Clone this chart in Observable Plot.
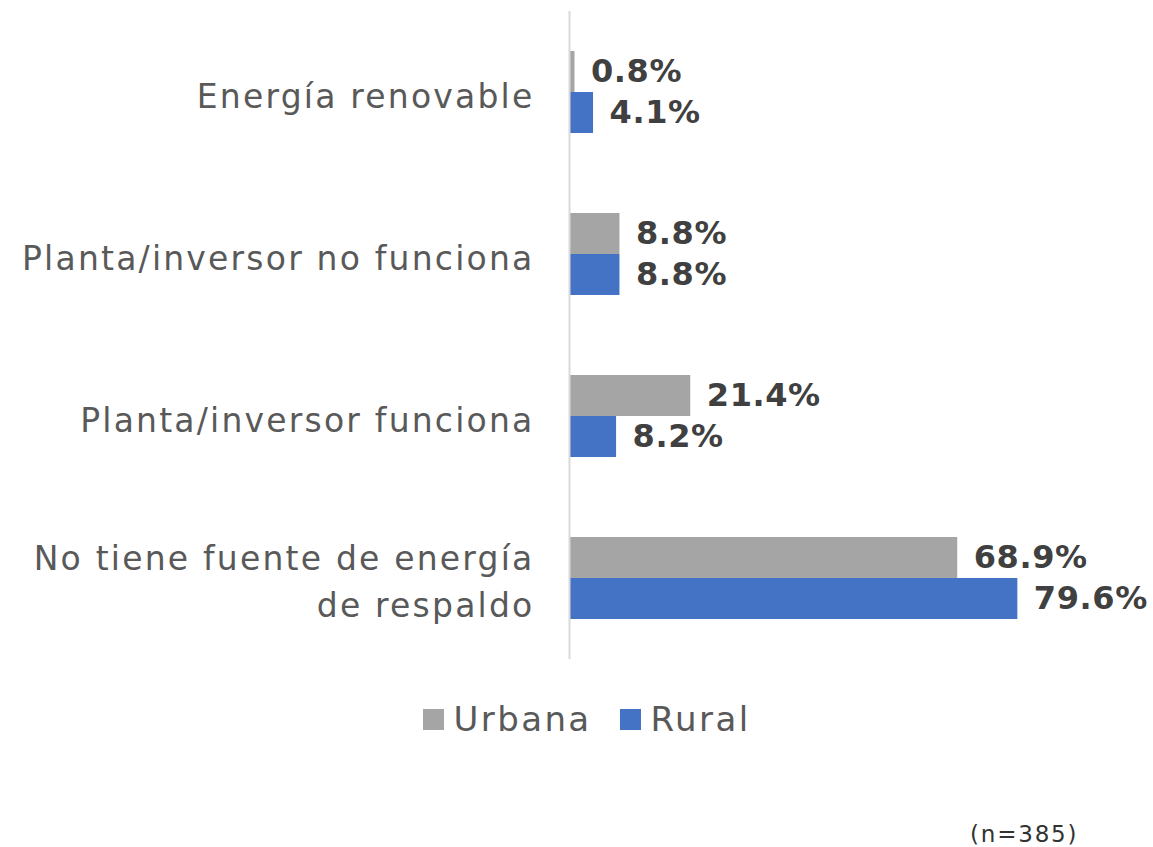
<!DOCTYPE html>
<html>
<head>
<meta charset="utf-8">
<script src="https://cdn.jsdelivr.net/npm/d3@7"></script>
<script src="https://cdn.jsdelivr.net/npm/@observablehq/plot@0.6"></script>
<style>
  html, body { margin: 0; padding: 0; background: #fff; }
  #wrap { position: relative; width: 1153px; height: 847px; font-family: "DejaVu Sans", sans-serif; }
  #legend { position: absolute; left: 0; width: 1153px; top: 699px; display: flex; justify-content: center; align-items: center; font-size: 34px; letter-spacing: 2.4px; color: #595959; padding-left: 20px; box-sizing: border-box; }
  .item { display: flex; align-items: center; margin: 0 14px; }
  .sw { width: 21px; height: 21px; margin-right: 10px; display: inline-block; }
  #caption { position: absolute; left: 970px; top: 821px; font-size: 23px; letter-spacing: 1.8px; color: #333; }
  g[aria-label="fy-axis tick label"] text { letter-spacing: 2.2px; }
  g[aria-label="text"] text { letter-spacing: 0.6px; }
</style>
</head>
<body>
<div id="wrap">
  <div id="chart"></div>
  <div id="legend"></div>
  <div id="caption">(n=385)</div>
</div>
<script>
const categories = ["Energía renovable", "Planta/inversor no funciona", "Planta/inversor funciona", "No tiene fuente de energía\nde respaldo"];
const series = ["Urbana", "Rural"];
const urbana = [0.8, 8.8, 21.4, 68.9];
const rural = [4.1, 8.8, 8.2, 79.6];
const colors = ["#A5A5A5", "#4472C4"];

const data = [];
categories.forEach((c, i) => {
  data.push({category: c, series: "Urbana", value: urbana[i]});
  data.push({category: c, series: "Rural", value: rural[i]});
});

const chart = Plot.plot({
  width: 1153,
  height: 680,
  marginTop: 10,
  marginBottom: 20,
  marginLeft: 570,
  marginRight: 21,
  style: {fontFamily: "DejaVu Sans, sans-serif", background: "#fff"},
  x: {domain: [0, 100], axis: null},
  fy: {domain: categories, padding: 0, axis: null},
  y: {domain: series, paddingInner: 0, paddingOuter: 0.93, axis: null},
  color: {domain: series, range: colors},
  marks: [
    Plot.barX(data, {fy: "category", y: "series", x: "value", fill: "series"}),
    Plot.text(data, {fy: "category", y: "series", x: "value", text: d => d.value.toFixed(1) + "%", textAnchor: "start", dx: 16, fontSize: 32, fontWeight: "bold", fill: "#404040"}),
    Plot.ruleX([0], {stroke: "#D9D9D9", strokeWidth: 2, dx: -1}),
    Plot.axisFy({anchor: "left", tickSize: 0, tickPadding: 36, fontSize: 33, fill: "#595959", lineHeight: 1.42, label: null})
  ]
});
document.getElementById("chart").appendChild(chart);

const legend = document.getElementById("legend");
series.forEach((s, i) => {
  const it = document.createElement("div");
  it.className = "item";
  const sw = document.createElement("span");
  sw.className = "sw";
  sw.style.background = colors[i];
  it.appendChild(sw);
  it.appendChild(document.createTextNode(s));
  legend.appendChild(it);
});
</script>
</body>
</html>
